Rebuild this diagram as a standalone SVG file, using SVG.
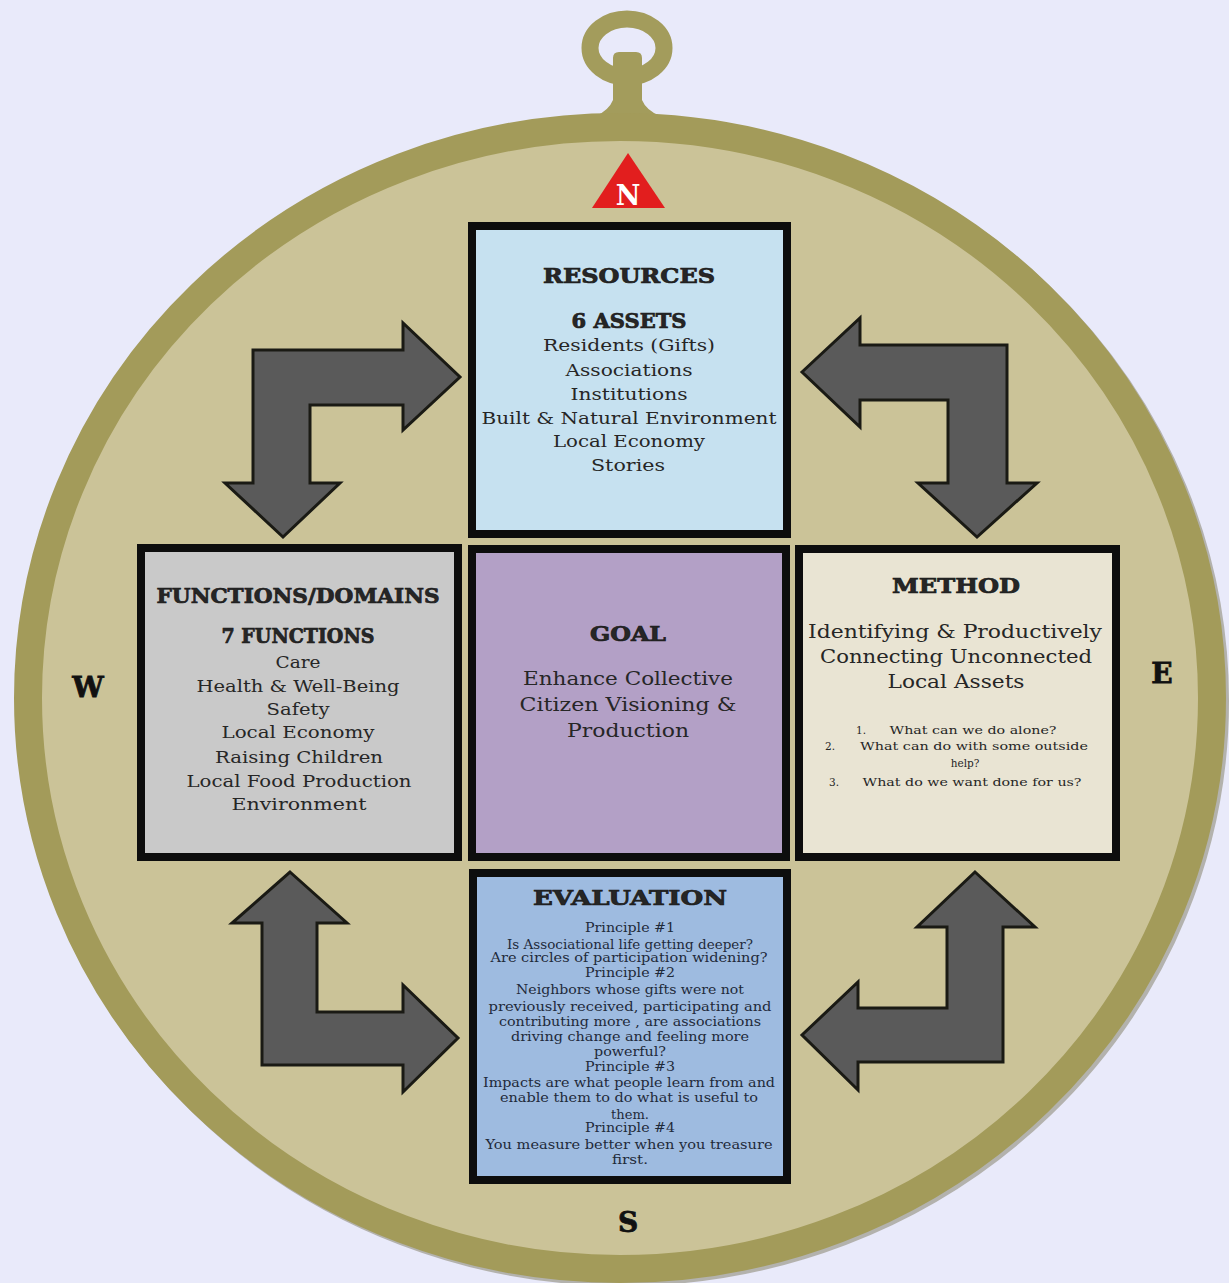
<svg xmlns="http://www.w3.org/2000/svg" width="1229" height="1283" viewBox="0 0 1229 1283">
<style>
.t{font-family:"DejaVu Serif","Liberation Serif",serif;fill:#262626;text-anchor:middle}
.h{font-weight:bold;font-size:20px;stroke:#1a1a1a;stroke-width:0.7}
.b{font-size:17.5px}
.g{font-size:19px}
.e{font-size:12px;fill:#1e2a3a}
.m{font-size:10.5px}
.box{stroke:#0d0d0d;stroke-width:8}
.arr{fill:#5a5a5a;stroke:#1a1a14;stroke-width:3;stroke-linejoin:miter}
.dir{font-family:"DejaVu Serif","Liberation Serif",serif;font-weight:bold;font-size:28px;fill:#111;stroke:#111;stroke-width:0.8;text-anchor:middle}
</style>
<rect width="1229" height="1283" fill="#e9eafa"/>
<g id="compass">
<ellipse cx="627" cy="48" rx="37" ry="29" fill="none" stroke="#a39c5c" stroke-width="17"/>
<path d="M613,58 Q613,52 619,52 L636,52 Q642,52 642,58 L642,100 Q646,110 660,116 L596,116 Q609,110 613,100 Z" fill="#a39c5c"/>
<ellipse cx="623" cy="701" rx="592" ry="571" fill="none" stroke="#7d7a60" stroke-opacity="0.5" stroke-width="28"/>
<ellipse cx="620" cy="698" rx="592" ry="571" fill="#cbc398" stroke="#a39b5a" stroke-width="28"/>
<polygon points="628,153 665,208 592,208" fill="#e21e1e"/>
<text x="628" y="205" font-family="DejaVu Serif,serif" font-weight="bold" font-size="27" fill="#fff" text-anchor="middle">N</text>
<text class="dir" x="88" y="697">W</text>
<text class="dir" x="1162" y="683">E</text>
<text class="dir" x="628" y="1232">S</text>
</g>
<g id="connectors">
<path class="arr" d="M253,350 L403,350 L403,323 L460,377 L403,430 L403,405 L310,405 L310,483 L340,483 L283,537 L225,483 L253,483 Z"/>
<path class="arr" d="M802,372 L860,318 L860,345 L1007,345 L1007,483 L1037,483 L977,537 L918,483 L948,483 L948,400 L860,400 L860,427 Z"/>
<path class="arr" d="M290,872 L347,923 L317,923 L317,1012 L403,1012 L403,985 L458,1038 L403,1092 L403,1065 L262,1065 L262,923 L232,923 Z"/>
<path class="arr" d="M975,872 L1035,927 L1003,927 L1003,1062 L858,1062 L858,1090 L802,1035 L858,982 L858,1008 L947,1008 L947,927 L917,927 Z"/>
</g>
<g id="resources">
<rect class="box" x="472" y="226" width="315" height="308" fill="#c6e1f0"/>
<text class="t h" x="629" y="283" textLength="172" lengthAdjust="spacingAndGlyphs">RESOURCES</text>
<text class="t h" x="629" y="328" font-size="18" textLength="115" lengthAdjust="spacingAndGlyphs">6 ASSETS</text>
<text class="t b" x="629" y="351" textLength="172" lengthAdjust="spacingAndGlyphs">Residents (Gifts)</text>
<text class="t b" x="629" y="376" textLength="127" lengthAdjust="spacingAndGlyphs">Associations</text>
<text class="t b" x="629" y="400" textLength="117" lengthAdjust="spacingAndGlyphs">Institutions</text>
<text class="t b" x="629" y="424" textLength="295" lengthAdjust="spacingAndGlyphs">Built &amp; Natural Environment</text>
<text class="t b" x="629" y="447" textLength="152" lengthAdjust="spacingAndGlyphs">Local Economy</text>
<text class="t b" x="628" y="471" textLength="74" lengthAdjust="spacingAndGlyphs">Stories</text>
</g>
<g id="functions">
<rect class="box" x="141" y="548" width="317" height="309" fill="#c9c9c9"/>
<text class="t h" x="298" y="603" font-size="18" textLength="283" lengthAdjust="spacingAndGlyphs">FUNCTIONS/DOMAINS</text>
<text class="t h" x="298" y="643" font-size="16" textLength="153" lengthAdjust="spacingAndGlyphs">7 FUNCTIONS</text>
<text class="t b" x="298" y="668" textLength="45" lengthAdjust="spacingAndGlyphs">Care</text>
<text class="t b" x="298" y="692" textLength="203" lengthAdjust="spacingAndGlyphs">Health &amp; Well-Being</text>
<text class="t b" x="298" y="715" textLength="63" lengthAdjust="spacingAndGlyphs">Safety</text>
<text class="t b" x="298" y="738" textLength="153" lengthAdjust="spacingAndGlyphs">Local Economy</text>
<text class="t b" x="299" y="763" textLength="168" lengthAdjust="spacingAndGlyphs">Raising Children</text>
<text class="t b" x="299" y="787" textLength="225" lengthAdjust="spacingAndGlyphs">Local Food Production</text>
<text class="t b" x="299" y="810" textLength="135" lengthAdjust="spacingAndGlyphs">Environment</text>
</g>
<g id="goal">
<rect class="box" x="472" y="549" width="314" height="308" fill="#b3a0c6"/>
<text class="t h" x="628" y="641" textLength="76" lengthAdjust="spacingAndGlyphs">GOAL</text>
<text class="t g" x="628" y="685" textLength="210" lengthAdjust="spacingAndGlyphs">Enhance Collective</text>
<text class="t g" x="628" y="711" textLength="217" lengthAdjust="spacingAndGlyphs">Citizen Visioning &amp;</text>
<text class="t g" x="628" y="737" textLength="122" lengthAdjust="spacingAndGlyphs">Production</text>
</g>
<g id="method">
<rect class="box" x="799" y="549" width="317" height="308" fill="#e9e4d3"/>
<text class="t h" x="956" y="593" textLength="128" lengthAdjust="spacingAndGlyphs">METHOD</text>
<text class="t g" x="955" y="638" textLength="294" lengthAdjust="spacingAndGlyphs">Identifying &amp; Productively</text>
<text class="t g" x="956" y="663" textLength="272" lengthAdjust="spacingAndGlyphs">Connecting Unconnected</text>
<text class="t g" x="956" y="688" textLength="137" lengthAdjust="spacingAndGlyphs">Local Assets</text>
<text class="t m" x="861" y="734">1.</text>
<text class="t m" x="973" y="734" textLength="167" lengthAdjust="spacingAndGlyphs">What can we do alone?</text>
<text class="t m" x="830" y="750">2.</text>
<text class="t m" x="974" y="750" textLength="228" lengthAdjust="spacingAndGlyphs">What can do with some outside</text>
<text class="t m" x="965" y="767">help?</text>
<text class="t m" x="834" y="786">3.</text>
<text class="t m" x="972" y="786" textLength="219" lengthAdjust="spacingAndGlyphs">What do we want done for us?</text>
</g>
<g id="evaluation">
<rect class="box" x="473" y="873" width="314" height="307" fill="#9ebbe0"/>
<text class="t h" x="630" y="905" font-size="21" textLength="194" lengthAdjust="spacingAndGlyphs">EVALUATION</text>
<text class="t e" x="630" y="932" textLength="90" lengthAdjust="spacingAndGlyphs">Principle #1</text>
<text class="t e" x="630" y="949" textLength="246" lengthAdjust="spacingAndGlyphs">Is Associational life getting deeper?</text>
<text class="t e" x="629" y="962" textLength="277" lengthAdjust="spacingAndGlyphs">Are circles of participation widening?</text>
<text class="t e" x="630" y="977" textLength="90" lengthAdjust="spacingAndGlyphs">Principle #2</text>
<text class="t e" x="630" y="994" textLength="228" lengthAdjust="spacingAndGlyphs">Neighbors whose gifts were not</text>
<text class="t e" x="630" y="1011" textLength="283" lengthAdjust="spacingAndGlyphs">previously received, participating and</text>
<text class="t e" x="630" y="1026" textLength="262" lengthAdjust="spacingAndGlyphs">contributing more , are associations</text>
<text class="t e" x="630" y="1041" textLength="238" lengthAdjust="spacingAndGlyphs">driving change and feeling more</text>
<text class="t e" x="630" y="1056" textLength="72" lengthAdjust="spacingAndGlyphs">powerful?</text>
<text class="t e" x="630" y="1071" textLength="90" lengthAdjust="spacingAndGlyphs">Principle #3</text>
<text class="t e" x="629" y="1087" textLength="292" lengthAdjust="spacingAndGlyphs">Impacts are what people learn from and</text>
<text class="t e" x="629" y="1102" textLength="258" lengthAdjust="spacingAndGlyphs">enable them to do what is useful to</text>
<text class="t e" x="630" y="1119" textLength="38" lengthAdjust="spacingAndGlyphs">them.</text>
<text class="t e" x="630" y="1132" textLength="90" lengthAdjust="spacingAndGlyphs">Principle #4</text>
<text class="t e" x="629" y="1149" textLength="287" lengthAdjust="spacingAndGlyphs">You measure better when you treasure</text>
<text class="t e" x="630" y="1164" textLength="36" lengthAdjust="spacingAndGlyphs">first.</text>
</g>
</svg>
